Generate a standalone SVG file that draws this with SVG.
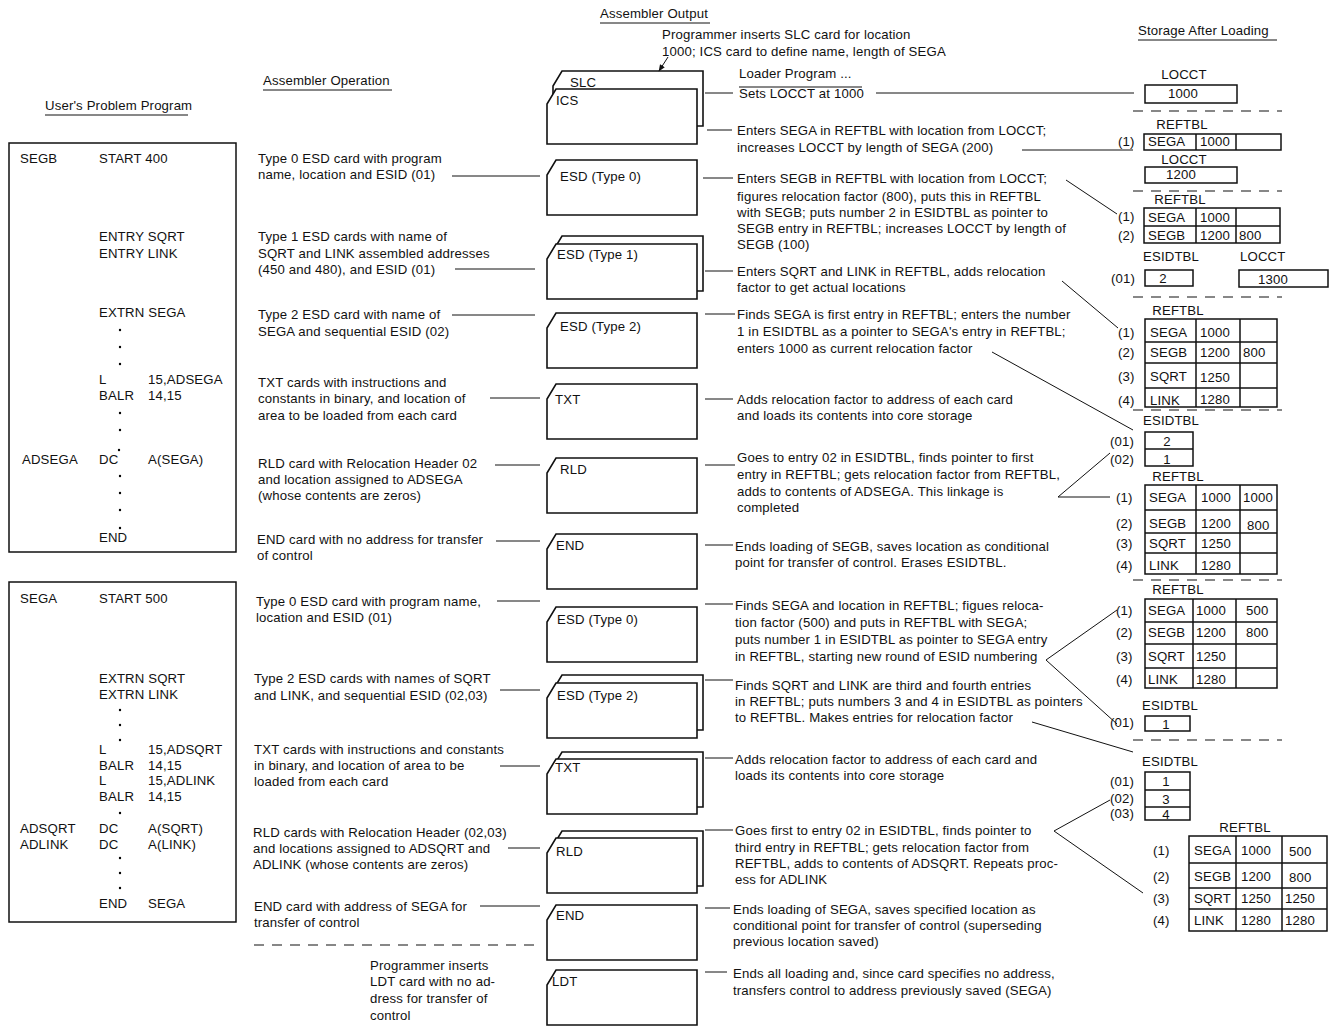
<svg xmlns="http://www.w3.org/2000/svg" xmlns:xlink="http://www.w3.org/1999/xlink" width="1332" height="1027" viewBox="0 0 1332 1027">
<style>
text{font-family:"Liberation Sans",Arial,sans-serif;font-size:13.2px;letter-spacing:0.15px;fill:#111}
.c{fill:#fff;stroke:#111;stroke-width:1.6}
.b{fill:none;stroke:#111;stroke-width:1.5}
.ln{fill:none;stroke:#111;stroke-width:1}
.d{fill:none;stroke:#111;stroke-width:1.2;stroke-dasharray:10,8}
.m{text-anchor:middle}
</style>
<defs>
<path id="card" d="M9,0 H150 V55 H0 V15 Z"/>
<marker id="ah" viewBox="0 0 10 10" refX="9" refY="5" markerWidth="7" markerHeight="7" orient="auto"><path d="M0,1 L10,5 L0,9 Z" fill="#111"/></marker>
</defs>
<rect width="1332" height="1027" fill="#fff"/>

<g id="headers">
<text x="600" y="18">Assembler Output</text><line class="ln" x1="600" y1="23" x2="710" y2="23"/>
<text x="1138" y="35">Storage After Loading</text><line class="ln" x1="1138" y1="40" x2="1277" y2="40"/>
<text x="263" y="85">Assembler Operation</text><line class="ln" x1="263" y1="90" x2="392" y2="90"/>
<text x="45" y="110">User's Problem Program</text><line class="ln" x1="45" y1="115" x2="188" y2="115"/>
<text x="662" y="39">Programmer inserts SLC card for location</text>
<text x="662" y="56">1000; ICS card to define name, length of SEGA</text>
<text x="739" y="78">Loader Program ...</text><line class="ln" x1="739" y1="87" x2="862" y2="87"/>
</g>

<g id="program-segb">
<rect class="b" x="9" y="143" width="227" height="409"/>
<text x="20" y="163">SEGB</text><text x="99" y="163">START 400</text>
<text x="99" y="241">ENTRY SQRT</text><text x="99" y="258">ENTRY LINK</text>
<text x="99" y="317">EXTRN SEGA</text>
<circle cx="120" cy="330" r="1.2"/><circle cx="120" cy="347" r="1.2"/><circle cx="120" cy="364" r="1.2"/>
<text x="99" y="384">L</text><text x="148" y="384">15,ADSEGA</text>
<text x="99" y="400">BALR</text><text x="148" y="400">14,15</text>
<circle cx="120" cy="413" r="1.2"/><circle cx="120" cy="430" r="1.2"/><circle cx="119" cy="450" r="1.2"/>
<text x="22" y="464">ADSEGA</text><text x="99" y="464">DC</text><text x="148" y="464">A(SEGA)</text>
<circle cx="120" cy="476" r="1.2"/><circle cx="120" cy="493" r="1.2"/><circle cx="120" cy="510" r="1.2"/><circle cx="120" cy="528" r="1.2"/>
<text x="99" y="542">END</text>
</g>

<g id="program-sega">
<rect class="b" x="9" y="582" width="227" height="340"/>
<text x="20" y="603">SEGA</text><text x="99" y="603">START 500</text>
<text x="99" y="683">EXTRN SQRT</text><text x="99" y="699">EXTRN LINK</text>
<circle cx="120" cy="710" r="1.2"/><circle cx="120" cy="725" r="1.2"/><circle cx="120" cy="740" r="1.2"/>
<text x="99" y="754">L</text><text x="148" y="754">15,ADSQRT</text>
<text x="99" y="770">BALR</text><text x="148" y="770">14,15</text>
<text x="99" y="785">L</text><text x="148" y="785">15,ADLINK</text>
<text x="99" y="801">BALR</text><text x="148" y="801">14,15</text>
<circle cx="120" cy="813" r="1.2"/>
<text x="20" y="833">ADSQRT</text><text x="99" y="833">DC</text><text x="148" y="833">A(SQRT)</text>
<text x="20" y="849">ADLINK</text><text x="99" y="849">DC</text><text x="148" y="849">A(LINK)</text>
<circle cx="120" cy="858" r="1.2"/><circle cx="120" cy="873" r="1.2"/><circle cx="120" cy="888" r="1.2"/>
<text x="99" y="908">END</text><text x="148" y="908">SEGA</text>
</g>

<g id="operations">
<text x="258" y="163">Type 0 ESD card with program</text>
<text x="258" y="179">name, location and ESID (01)</text>
<text x="258" y="241">Type 1 ESD cards with name of</text>
<text x="258" y="258">SQRT and LINK assembled addresses</text>
<text x="258" y="274">(450 and 480), and ESID (01)</text>
<text x="258" y="319">Type 2 ESD card with name of</text>
<text x="258" y="336">SEGA and sequential ESID (02)</text>
<text x="258" y="387">TXT cards with instructions and</text>
<text x="258" y="403">constants in binary, and location of</text>
<text x="258" y="420">area to be loaded from each card</text>
<text x="258" y="468">RLD card with Relocation Header 02</text>
<text x="258" y="484">and location assigned to ADSEGA</text>
<text x="258" y="500">(whose contents are zeros)</text>
<text x="257" y="544">END card with no address for transfer</text>
<text x="257" y="560">of control</text>
<text x="256" y="606">Type 0 ESD card with program name,</text>
<text x="256" y="622">location and ESID (01)</text>
<text x="254" y="683">Type 2 ESD cards with names of SQRT</text>
<text x="254" y="700">and LINK, and sequential ESID (02,03)</text>
<text x="254" y="754">TXT cards with instructions and constants</text>
<text x="254" y="770">in binary, and location of area to be</text>
<text x="254" y="786">loaded from each card</text>
<text x="253" y="837">RLD cards with Relocation Header (02,03)</text>
<text x="253" y="853">and locations assigned to ADSQRT and</text>
<text x="253" y="869">ADLINK (whose contents are zeros)</text>
<text x="254" y="911">END card with address of SEGA for</text>
<text x="254" y="927">transfer of control</text>
<text x="370" y="970">Programmer inserts</text>
<text x="370" y="986">LDT card with no ad-</text>
<text x="370" y="1003">dress for transfer of</text>
<text x="370" y="1020">control</text>
</g>

<g id="card-slc-ics">
<use href="#card" class="c" x="553" y="71"/>
<use href="#card" class="c" x="547" y="89"/>
<text x="570" y="87">SLC</text>
<text x="556" y="105">ICS</text>
</g>
<g id="card-esd0-segb"><use href="#card" class="c" x="547" y="160"/><text x="560" y="181">ESD (Type 0)</text></g>
<g id="card-esd1"><use href="#card" class="c" x="553" y="236"/><use href="#card" class="c" x="547" y="244"/><text x="557" y="259">ESD (Type 1)</text></g>
<g id="card-esd2-segb"><use href="#card" class="c" x="547" y="313"/><text x="560" y="331">ESD (Type 2)</text></g>
<g id="card-txt-segb"><use href="#card" class="c" x="547" y="384"/><text x="555" y="404">TXT</text></g>
<g id="card-rld-segb"><use href="#card" class="c" x="547" y="458"/><text x="560" y="474">RLD</text></g>
<g id="card-end-segb"><use href="#card" class="c" x="547" y="534"/><text x="556" y="550">END</text></g>
<g id="card-esd0-sega"><use href="#card" class="c" x="547" y="607"/><text x="557" y="624">ESD (Type 0)</text></g>
<g id="card-esd2-sega"><use href="#card" class="c" x="553" y="675"/><use href="#card" class="c" x="547" y="683"/><text x="557" y="700">ESD (Type 2)</text></g>
<g id="card-txt-sega"><use href="#card" class="c" x="553" y="752"/><use href="#card" class="c" x="547" y="759"/><text x="555" y="772">TXT</text></g>
<g id="card-rld-sega"><use href="#card" class="c" x="553" y="831"/><use href="#card" class="c" x="547" y="838"/><text x="556" y="856">RLD</text></g>
<g id="card-end-sega"><use href="#card" class="c" x="547" y="905"/><text x="556" y="920">END</text></g>
<g id="card-ldt"><use href="#card" class="c" x="547" y="970"/><text x="552" y="986">LDT</text></g>

<g id="loader-text">
<text x="739" y="98">Sets LOCCT at 1000</text>
<text x="737" y="135">Enters SEGA in REFTBL with location from LOCCT;</text>
<text x="737" y="152">increases LOCCT by length of SEGA (200)</text>
<text x="737" y="183">Enters SEGB in REFTBL with location from LOCCT;</text>
<text x="737" y="201">figures relocation factor (800), puts this in REFTBL</text>
<text x="737" y="217">with SEGB; puts number 2 in ESIDTBL as pointer to</text>
<text x="737" y="233">SEGB entry in REFTBL; increases LOCCT by length of</text>
<text x="737" y="249">SEGB (100)</text>
<text x="737" y="276">Enters SQRT and LINK in REFTBL, adds relocation</text>
<text x="737" y="292">factor to get actual locations</text>
<text x="737" y="319">Finds SEGA is first entry in REFTBL; enters the number</text>
<text x="737" y="336">1 in ESIDTBL as a pointer to SEGA's entry in REFTBL;</text>
<text x="737" y="353">enters 1000 as current relocation factor</text>
<text x="737" y="404">Adds relocation factor to address of each card</text>
<text x="737" y="420">and loads its contents into core storage</text>
<text x="737" y="462">Goes to entry 02 in ESIDTBL, finds pointer to first</text>
<text x="737" y="479">entry in REFTBL; gets relocation factor from REFTBL,</text>
<text x="737" y="496">adds to contents of ADSEGA. This linkage is</text>
<text x="737" y="512">completed</text>
<text x="735" y="551">Ends loading of SEGB, saves location as conditional</text>
<text x="735" y="567">point for transfer of control. Erases ESIDTBL.</text>
<text x="735" y="610">Finds SEGA and location in REFTBL; figues reloca-</text>
<text x="735" y="627">tion factor (500) and puts in REFTBL with SEGA;</text>
<text x="735" y="644">puts number 1 in ESIDTBL as pointer to SEGA entry</text>
<text x="735" y="661">in REFTBL, starting new round of ESID numbering</text>
<text x="735" y="690">Finds SQRT and LINK are third and fourth entries</text>
<text x="735" y="706">in REFTBL; puts numbers 3 and 4 in ESIDTBL as pointers</text>
<text x="735" y="722">to REFTBL. Makes entries for relocation factor</text>
<text x="735" y="764">Adds relocation factor to address of each card and</text>
<text x="735" y="780">loads its contents into core storage</text>
<text x="735" y="835">Goes first to entry 02 in ESIDTBL, finds pointer to</text>
<text x="735" y="852">third entry in REFTBL; gets relocation factor from</text>
<text x="735" y="868">REFTBL, adds to contents of ADSQRT. Repeats proc-</text>
<text x="735" y="884">ess for ADLINK</text>
<text x="733" y="914">Ends loading of SEGA, saves specified location as</text>
<text x="733" y="930">conditional point for transfer of control (superseding</text>
<text x="733" y="946">previous location saved)</text>
<text x="733" y="978">Ends all loading and, since card specifies no address,</text>
<text x="733" y="995">transfers control to address previously saved (SEGA)</text>
</g>

<g id="connectors">
<line class="ln" x1="668" y1="57" x2="659" y2="71" marker-end="url(#ah)"/>
<line class="ln" x1="452" y1="176" x2="540" y2="176"/>
<line class="ln" x1="455" y1="269" x2="535" y2="269"/>
<line class="ln" x1="452" y1="315" x2="535" y2="315"/>
<line class="ln" x1="490" y1="398" x2="540" y2="398"/>
<line class="ln" x1="495" y1="465" x2="540" y2="465"/>
<line class="ln" x1="496" y1="541" x2="540" y2="541"/>
<line class="ln" x1="497" y1="601" x2="540" y2="601"/>
<line class="ln" x1="500" y1="690" x2="540" y2="690"/>
<line class="ln" x1="500" y1="766" x2="540" y2="766"/>
<line class="ln" x1="508" y1="848" x2="540" y2="848"/>
<line class="ln" x1="480" y1="906" x2="540" y2="906"/>
<line class="d" x1="254" y1="945" x2="540" y2="945"/>

<line class="ln" x1="705" y1="93" x2="733" y2="93"/>
<line class="ln" x1="876" y1="93" x2="1134" y2="93"/>
<line class="ln" x1="707" y1="130" x2="732" y2="130"/>
<line class="ln" x1="1022" y1="150" x2="1133" y2="150"/>
<line class="ln" x1="703" y1="178" x2="733" y2="178"/>
<line class="ln" x1="1066" y1="180" x2="1117" y2="214"/>
<line class="ln" x1="705" y1="271" x2="733" y2="271"/>
<line class="ln" x1="1062" y1="281" x2="1118" y2="328"/>
<line class="ln" x1="705" y1="314" x2="735" y2="314"/>
<line class="ln" x1="992" y1="352" x2="1133" y2="430"/>
<line class="ln" x1="705" y1="399" x2="733" y2="399"/>
<line class="ln" x1="705" y1="465" x2="735" y2="465"/>
<polyline class="ln" points="1110,453 1058,497 1110,497"/>
<line class="ln" x1="705" y1="545" x2="733" y2="545"/>
<line class="ln" x1="705" y1="604" x2="733" y2="604"/>
<polyline class="ln" points="1117,610 1046,660 1117,724"/>
<line class="ln" x1="705" y1="680" x2="733" y2="680"/>
<line class="ln" x1="1032" y1="722" x2="1133" y2="752"/>
<line class="ln" x1="705" y1="758" x2="733" y2="758"/>
<line class="ln" x1="705" y1="830" x2="733" y2="830"/>
<polyline class="ln" points="1110,800 1054,831 1143,893"/>
<line class="ln" x1="705" y1="908" x2="730" y2="908"/>
<line class="ln" x1="705" y1="972" x2="727" y2="972"/>
</g>

<g id="storage">
<text class="m" x="1184" y="79">LOCCT</text>
<rect class="b" x="1145" y="85" width="92" height="18"/><text class="m" x="1183" y="98">1000</text>
<line class="d" x1="1133" y1="111" x2="1282" y2="111"/>

<text class="m" x="1182" y="129">REFTBL</text>
<text x="1118" y="146">(1)</text>
<rect class="b" x="1144" y="134" width="137" height="16"/>
<line class="b" x1="1196" y1="134" x2="1196" y2="150"/><line class="b" x1="1236" y1="134" x2="1236" y2="150"/>
<text x="1148" y="146">SEGA</text><text x="1200" y="146">1000</text>
<text class="m" x="1184" y="164">LOCCT</text>
<rect class="b" x="1145" y="167" width="92" height="16"/><text class="m" x="1181" y="179">1200</text>
<line class="d" x1="1133" y1="191" x2="1282" y2="191"/>

<text class="m" x="1180" y="204">REFTBL</text>
<text x="1118" y="221">(1)</text><text x="1118" y="240">(2)</text>
<rect class="b" x="1144" y="208" width="136" height="35"/>
<line class="b" x1="1144" y1="226" x2="1280" y2="226"/>
<line class="b" x1="1196" y1="208" x2="1196" y2="243"/><line class="b" x1="1236" y1="208" x2="1236" y2="243"/>
<text x="1148" y="222">SEGA</text><text x="1200" y="222">1000</text>
<text x="1148" y="240">SEGB</text><text x="1200" y="240">1200</text><text x="1239" y="240">800</text>
<text x="1143" y="261">ESIDTBL</text><text x="1240" y="261">LOCCT</text>
<text x="1111" y="283">(01)</text>
<rect class="b" x="1145" y="270" width="48" height="16"/><text class="m" x="1163" y="283">2</text>
<rect class="b" x="1239" y="270" width="89" height="17"/><text class="m" x="1273" y="284">1300</text>
<line class="d" x1="1133" y1="297" x2="1282" y2="297"/>

<text class="m" x="1178" y="315">REFTBL</text>
<text x="1118" y="337">(1)</text><text x="1118" y="357">(2)</text><text x="1118" y="381">(3)</text><text x="1118" y="405">(4)</text>
<rect class="b" x="1145" y="319" width="132" height="88"/>
<line class="b" x1="1145" y1="342" x2="1277" y2="342"/><line class="b" x1="1145" y1="363" x2="1277" y2="363"/><line class="b" x1="1145" y1="388" x2="1277" y2="388"/>
<line class="b" x1="1196" y1="319" x2="1196" y2="407"/><line class="b" x1="1240" y1="319" x2="1240" y2="407"/>
<text x="1150" y="337">SEGA</text><text x="1200" y="337">1000</text>
<text x="1150" y="357">SEGB</text><text x="1200" y="357">1200</text><text x="1243" y="357">800</text>
<text x="1150" y="381">SQRT</text><text x="1200" y="382">1250</text>
<text x="1150" y="405">LINK</text><text x="1200" y="404">1280</text>
<line class="d" x1="1133" y1="410" x2="1282" y2="410"/>

<text x="1143" y="425">ESIDTBL</text>
<text x="1110" y="446">(01)</text><text x="1110" y="464">(02)</text>
<rect class="b" x="1145" y="432" width="48" height="34"/><line class="b" x1="1145" y1="449" x2="1193" y2="449"/>
<text class="m" x="1167" y="446">2</text><text class="m" x="1167" y="464">1</text>

<text class="m" x="1178" y="481">REFTBL</text>
<text x="1116" y="502">(1)</text><text x="1116" y="528">(2)</text><text x="1116" y="548">(3)</text><text x="1116" y="570">(4)</text>
<rect class="b" x="1145" y="485" width="132" height="89"/>
<line class="b" x1="1145" y1="510" x2="1277" y2="510"/><line class="b" x1="1145" y1="533" x2="1277" y2="533"/><line class="b" x1="1145" y1="553" x2="1277" y2="553"/>
<line class="b" x1="1196" y1="485" x2="1196" y2="574"/><line class="b" x1="1240" y1="485" x2="1240" y2="574"/>
<text x="1149" y="502">SEGA</text><text x="1201" y="502">1000</text><text x="1243" y="502">1000</text>
<text x="1149" y="528">SEGB</text><text x="1201" y="528">1200</text><text x="1247" y="530">800</text>
<text x="1149" y="548">SQRT</text><text x="1201" y="548">1250</text>
<text x="1149" y="570">LINK</text><text x="1201" y="570">1280</text>
<line class="d" x1="1133" y1="580" x2="1282" y2="580"/>

<text class="m" x="1178" y="594">REFTBL</text>
<text x="1116" y="615">(1)</text><text x="1116" y="637">(2)</text><text x="1116" y="661">(3)</text><text x="1116" y="684">(4)</text>
<rect class="b" x="1145" y="599" width="132" height="89"/>
<line class="b" x1="1145" y1="622" x2="1277" y2="622"/><line class="b" x1="1145" y1="644" x2="1277" y2="644"/><line class="b" x1="1145" y1="668" x2="1277" y2="668"/>
<line class="b" x1="1193" y1="599" x2="1193" y2="688"/><line class="b" x1="1236" y1="599" x2="1236" y2="688"/>
<text x="1148" y="615">SEGA</text><text x="1196" y="615">1000</text><text x="1246" y="615">500</text>
<text x="1148" y="637">SEGB</text><text x="1196" y="637">1200</text><text x="1246" y="637">800</text>
<text x="1148" y="661">SQRT</text><text x="1196" y="661">1250</text>
<text x="1148" y="684">LINK</text><text x="1196" y="684">1280</text>
<text x="1142" y="710">ESIDTBL</text>
<text x="1110" y="727">(01)</text>
<rect class="b" x="1145" y="716" width="45" height="15"/><text class="m" x="1166" y="729">1</text>
<line class="d" x1="1133" y1="740" x2="1282" y2="740"/>

<text x="1142" y="766">ESIDTBL</text>
<text x="1110" y="786">(01)</text><text x="1110" y="803">(02)</text><text x="1110" y="818">(03)</text>
<rect class="b" x="1145" y="772" width="45" height="48"/>
<line class="b" x1="1145" y1="790" x2="1190" y2="790"/><line class="b" x1="1145" y1="807" x2="1190" y2="807"/>
<text class="m" x="1166" y="786">1</text><text class="m" x="1166" y="804">3</text><text class="m" x="1166" y="819">4</text>

<text class="m" x="1245" y="832">REFTBL</text>
<text x="1153" y="855">(1)</text><text x="1153" y="881">(2)</text><text x="1153" y="903">(3)</text><text x="1153" y="925">(4)</text>
<rect class="b" x="1189" y="836" width="138" height="95"/>
<line class="b" x1="1189" y1="863" x2="1327" y2="863"/><line class="b" x1="1189" y1="888" x2="1327" y2="888"/><line class="b" x1="1189" y1="909" x2="1327" y2="909"/>
<line class="b" x1="1236" y1="836" x2="1236" y2="931"/><line class="b" x1="1282" y1="836" x2="1282" y2="931"/>
<text x="1194" y="855">SEGA</text><text x="1241" y="855">1000</text><text x="1289" y="856">500</text>
<text x="1194" y="881">SEGB</text><text x="1241" y="881">1200</text><text x="1289" y="882">800</text>
<text x="1194" y="903">SQRT</text><text x="1241" y="903">1250</text><text x="1285" y="903">1250</text>
<text x="1194" y="925">LINK</text><text x="1241" y="925">1280</text><text x="1285" y="925">1280</text>
</g>
</svg>
